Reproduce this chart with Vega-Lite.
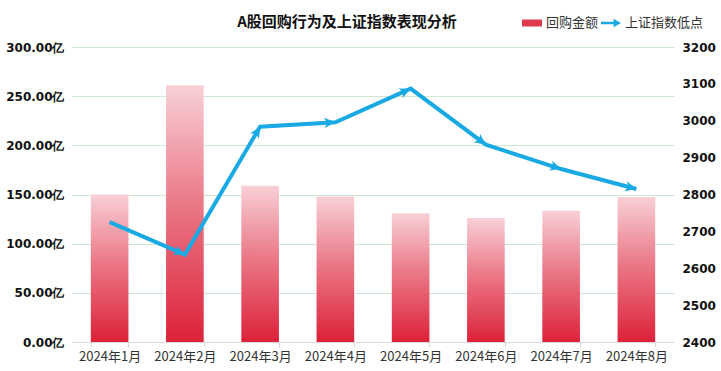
{
  "$schema": "https://vega.github.io/schema/vega-lite/v6.json",
  "autosize": "none",
  "width": 602,
  "height": 295,
  "padding": {"left": 72, "top": 47, "right": 47, "bottom": 29},
  "background": "white",
  "config": {"view": {"stroke": null}, "font": "Noto Sans CJK SC"},
  "title": {
    "text": "A股回购行为及上证指数表现分析",
    "font": "Noto Sans CJK SC",
    "fontSize": 15,
    "fontWeight": "bold",
    "color": "#111111",
    "anchor": "middle",
    "dx": -26,
    "offset": 0,
    "dy": 17
  },
  "data": {
    "values": [
      {"m": 1, "month": "2024年1月", "amount": 150, "low": 2725},
      {"m": 2, "month": "2024年2月", "amount": 261, "low": 2637},
      {"m": 3, "month": "2024年3月", "amount": 159, "low": 2984},
      {"m": 4, "month": "2024年4月", "amount": 148, "low": 2996},
      {"m": 5, "month": "2024年5月", "amount": 131, "low": 3087},
      {"m": 6, "month": "2024年6月", "amount": 126, "low": 2935},
      {"m": 7, "month": "2024年7月", "amount": 133.5, "low": 2869},
      {"m": 8, "month": "2024年8月", "amount": 147.5, "low": 2815}
    ]
  },
  "encoding": {
    "x": {
      "field": "month",
      "type": "nominal",
      "sort": null,
      "scale": {"paddingInner": 0.5, "paddingOuter": 0.25},
      "axis": {
        "title": null,
        "labelAngle": 0,
        "labelFontSize": 13,
        "labelColor": "#333333",
        "labelFont": "Noto Sans CJK SC",
        "labelPadding": 3,
        "domainColor": "#d9d9d9",
        "tickColor": "#d9d9d9",
        "tickBand": "extent",
        "tickSize": 5,
        "grid": false
      }
    }
  },
  "layer": [
    {
      "mark": {
        "type": "bar",
        "color": {
          "gradient": "linear",
          "x1": 0, "y1": 0, "x2": 0, "y2": 1,
          "stops": [
            {"offset": 0, "color": "#f8d0d6"},
            {"offset": 0.45, "color": "#eb7a89"},
            {"offset": 1, "color": "#dc2239"}
          ]
        }
      },
      "encoding": {
        "y": {
          "field": "amount",
          "type": "quantitative",
          "scale": {"domain": [0, 300]},
          "axis": {
            "title": null,
            "tickCount": 6,
            "labelExpr": "format(datum.value, '.2f') + '亿'",
            "labelFont": "DejaVu Sans",
            "labelFontSize": 12,
            "labelFontWeight": "bold",
            "labelColor": "#111111",
            "labelPadding": 8,
            "ticks": false,
            "domain": false,
            "grid": true,
            "gridColor": "#cfe6cf",
            "gridWidth": 1
          }
        }
      }
    },
    {
      "mark": {"type": "line", "strokeWidth": 4, "strokeJoin": "miter"},
      "encoding": {
        "y": {
          "field": "low",
          "type": "quantitative",
          "scale": {"domain": [2400, 3200]},
          "axis": {
            "title": null,
            "orient": "right",
            "values": [2400, 2500, 2600, 2700, 2800, 2900, 3000, 3100, 3200],
            "format": "d",
            "labelFont": "DejaVu Sans",
            "labelFontSize": 12,
            "labelFontWeight": "bold",
            "labelColor": "#111111",
            "labelPadding": 8,
            "ticks": false,
            "domain": false,
            "grid": false
          }
        },
        "color": {
          "datum": "上证指数低点",
          "type": "nominal",
          "scale": {"domain": ["回购金额", "上证指数低点"], "range": ["#e03a4f", "#19a9e3"]},
          "legend": {
            "title": null,
            "orient": "none",
            "legendX": 450,
            "legendY": -34,
            "direction": "horizontal",
            "labelFont": "Noto Sans CJK SC",
            "labelFontSize": 13,
            "labelColor": "#333333",
            "labelOffset": 4,
            "columnPadding": 2,
            "symbolSize": 400,
            "encode": {
              "symbols": {
                "update": {
                  "shape": {"signal": "datum.value === '回购金额' ? 'M-1,-0.35H1V0.35H-1Z' : 'M-1,-0.13H0.25V-0.42L1,0L0.25,0.42V0.13H-1Z'"},
                  "fill": {"signal": "datum.value === '回购金额' ? '#e03a4f' : '#19a9e3'"},
                  "fillOpacity": {"value": 1},
                  "strokeWidth": {"value": 0},
                  "opacity": {"value": 1}
                }
              }
            }
          }
        }
      }
    },
    {
      "transform": [
        {"window": [{"op": "lag", "field": "low", "as": "prevLow"}], "sort": [{"field": "m"}]},
        {"filter": "datum.prevLow != null"},
        {"calculate": "atan2(-(datum.low - datum.prevLow) * 295 / 800, 602 / 8) * 180 / PI", "as": "ang"}
      ],
      "mark": {"type": "point", "filled": true, "opacity": 1, "color": "#19a9e3", "shape": "M-1.6,-0.75L0,0L-1.6,0.75L-1.2,0Z", "size": 190},
      "encoding": {
        "y": {"field": "low", "type": "quantitative", "scale": {"domain": [2400, 3200]}, "axis": null},
        "angle": {"field": "ang", "type": "quantitative", "scale": null}
      }
    }
  ],
  "resolve": {"scale": {"y": "independent"}}
}
